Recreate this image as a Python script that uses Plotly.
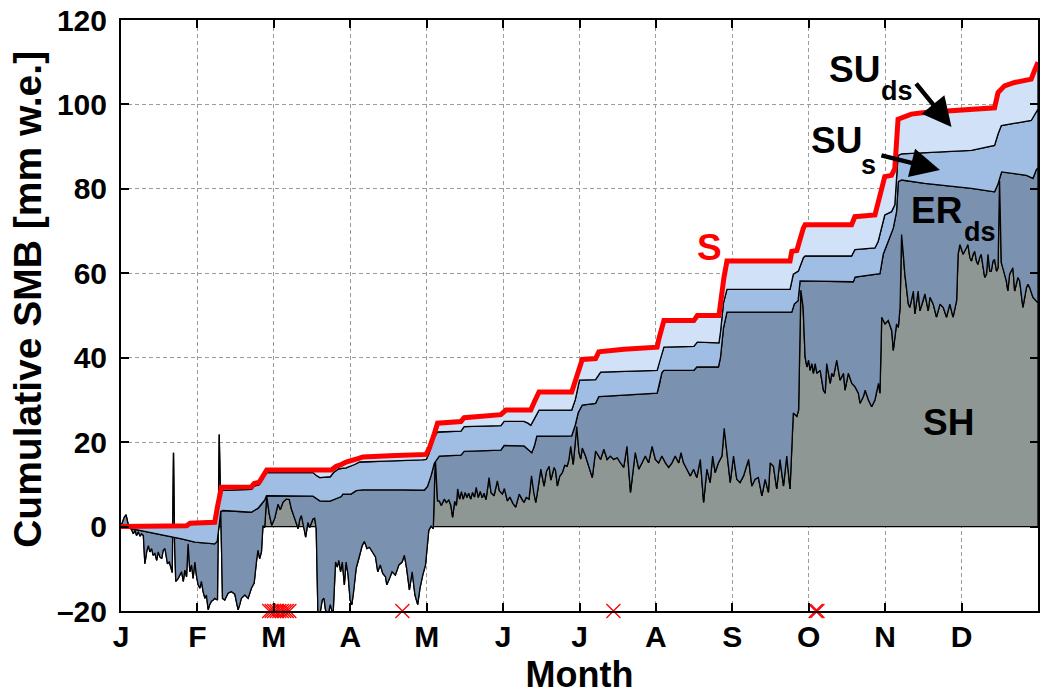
import plotly.graph_objects as go

# ---------------- data ----------------
month_labels = ['J', 'F', 'M', 'A', 'M', 'J', 'J', 'A', 'S', 'O', 'N', 'D']
y_ticks = [-20, 0, 20, 40, 60, 80, 100, 120]
y_tick_text = ['\u201320', '0', '20', '40', '60', '80', '100', '120']

# SH : snow height (grey area, noisy line)
sh_days = [0, 1.3, 2.0, 2.9, 4.2, 4.9, 5.6, 6.2, 6.9, 7.6, 8.2, 8.9, 9.5, 10.2, 10.9, 11.5, 12.2, 12.8,
           13.5, 14.2, 14.8, 15.5, 16.2, 16.8, 17.5, 18.1, 18.5, 19.2, 19.9, 20.4, 20.9, 21.3, 21.8,
           22.8, 23.4, 24.1, 24.8, 25.4, 26.1, 26.7, 27.4, 28.1, 28.7, 29.4, 30.0, 30.7, 31.4, 32.0,
           32.7, 33.4, 34.0, 34.7, 35.3, 36.0, 36.7, 37.3, 38.4, 39.1, 39.7, 40.4, 41.3, 42.6, 43.9,
           45.3, 46.6, 47.3, 47.9, 49.3, 50.6, 51.9, 53.0, 53.9, 54.5, 55.2, 55.9, 56.5, 57.2, 58.0,
           59.0, 60.0, 61.2, 62.5, 63.4, 64.5, 65.8, 67.0, 67.8, 69.1, 70.5, 71.2, 71.8, 72.4, 73.5,
           74.4, 75.1, 76.4, 77.1, 77.7, 78.4, 79.1, 80.1, 80.8, 81.4, 82.4, 83.3, 84.4, 85.4, 86.1,
           86.7, 87.4, 88.1, 88.9, 89.6, 90.4, 91.2, 91.9, 92.6, 93.6, 94.7, 96.0, 96.9, 97.9, 98.9,
           100.0, 101.3, 102.2, 103.2, 104.2, 105.3, 105.8, 106.9, 107.9, 109.2, 110.6, 111.9, 112.8,
           113.7, 114.8, 115.9, 117.0, 118.1, 119.0, 120.1, 121.2, 122.5, 123.4, 124.3, 125.1, 126.0,
           126.7, 127.5, 128.7, 129.5, 130.5, 131.3, 132.0, 132.8, 133.5, 134.0, 134.8, 135.5, 136.2,
           137.0, 137.7, 138.4, 139.2, 139.9, 140.7, 141.4, 142.2, 143.0, 143.8, 144.5, 145.3, 146.5,
           147.3, 148.5, 149.8, 150.6, 151.8, 152.6, 153.8, 154.8, 156.0, 157.1, 158.5, 159.5, 160.4,
           161.3, 162.4, 163.4, 164.3, 165.1, 166.1, 167.1, 168.4, 169.3, 170.4, 171.1, 171.7, 172.4,
           173.0, 173.7, 174.6, 175.7, 176.6, 177.6, 178.3, 179.0, 180.0, 181.4, 182.3, 183.0, 183.6,
           184.9, 186.2, 187.6, 188.9, 190.9, 192.2, 193.5, 194.8, 196.1, 197.5, 198.8, 200.1, 201.4,
           202.8, 204.7, 206.1, 207.4, 208.7, 210.0, 211.4, 212.7, 214.0, 215.3, 216.7, 218.0, 219.3,
           220.6, 222.0, 222.9, 223.9, 225.3, 226.6, 227.9, 229.2, 230.6, 231.9, 233.2, 234.5, 235.5,
           236.5, 237.8, 239.2, 240.1, 241.2, 242.5, 243.8, 245.1, 246.4, 247.8, 249.8, 251.1, 252.4,
           253.7, 255.1, 256.4, 257.7, 258.4, 259.7, 261.0, 262.3, 263.7, 265.0, 266.3, 267.6, 269.0,
           269.7, 270.6, 271.5, 272.3, 273.0, 273.7, 274.3, 275.0, 275.6, 276.3, 277.0, 278.3, 279.6,
           280.3, 280.9, 282.3, 282.9, 283.6, 284.9, 286.2, 287.6, 288.2, 289.5, 290.9, 292.2, 293.5,
           294.2, 295.5, 296.2, 297.5, 298.8, 300.1, 301.5, 302.1, 302.8, 304.1, 305.4, 306.8, 307.4,
           308.7, 309.4, 310.1, 310.7, 311.4, 312.0, 313.4, 314.0, 315.4, 316.0, 317.3, 318.0, 319.3,
           320.0, 321.3, 322.0, 323.3, 324.6, 326.0, 327.3, 328.6, 329.9, 331.2, 332.6, 333.2, 333.9,
           335.2, 336.5, 337.1, 337.9, 338.5, 339.2, 339.8, 340.5, 341.1, 341.8, 342.4, 343.2, 343.8,
           344.5, 345.1, 345.8, 346.4, 347.1, 347.7, 348.5, 349.1, 349.7, 350.4, 351.1, 352.4, 353.0,
           353.7, 355.0, 355.7, 357.0, 357.7, 359.0, 360.4, 361.0, 361.7, 363.0, 364.3, 365]
sh = [0.0, 2.2, 2.8, 0.4, -0.7, -1.7, -0.9, -2.1, -1.2, -2.3, -1.7, -2.1, -8.8, -6.0, -4.5, -6.0, -5.2, -6.8,
      -6.4, -8.0, -6.0, -7.2, -7.6, -5.6, -5.2, -7.6, -8.8, -8.4, -9.6, -10.9, 17.5, -3.3, -13.0,
      -12.3, -11.5, -10.7, -13.0, -10.3, -11.9, -4.1, -10.7, -9.1, -12.3, -8.4, -11.5, -13.8, -14.6, -13.0,
      -15.4, -17.0, -16.2, -19.7, -18.5, -17.7, -17.4, -17.0, -17.4, 21.8, 4.2, -17.0, -17.4, -15.8, -15.4,
      -16.0, -19.7, -18.5, -17.0, -16.2, -17.0, -14.6, -13.4, -8.4, -5.6, -7.6, -6.0, 0.2, -0.2, 7.3,
      3.0, 0.3, 2.0, 5.3, 4.0, 5.8, 6.5, 6.4, 4.2, 2.0, -0.5, 1.8, 2.6, 1.4, -2.5,
      1.0, -0.2, 1.8, 2.0, -0.5, -21.0, -21.0, -17.4, -17.0, -19.7, -21.0, -18.5, -21.0, -8.4, -9.6,
      -8.0, -10.7, -8.4, -13.8, -8.4, -11.5, -17.4, -18.5, -15.4, -9.9, -7.6, -4.5, -3.5, -5.2, -4.9,
      -6.0, -7.2, -10.7, -9.1, -11.1, -11.9, -13.8, -12.3, -10.7, -11.5, -9.1, -8.4, -6.8,
      -9.9, -15.0, -10.7, -16.2, -18.5, -14.6, -11.5, -9.1, -0.9, 0.1, -0.5, 16.4, 6.1,
      6.1, 5.0, 6.5, 5.7, 6.3, 5.0, 2.2, 6.0, 5.0, 8.9, 6.5, 8.3, 6.5,
      8.1, 6.9, 7.9, 6.5, 8.1, 7.0, 9.3, 6.9, 8.3, 6.8, 7.9, 6.4, 11.6,
      8.0, 7.3, 10.8, 8.5, 7.7, 9.0, 6.1, 7.0, 5.5, 4.6, 7.7, 6.5, 5.7,
      6.9, 6.5, 12.0, 8.0, 5.7, 9.5, 13.6, 9.6, 13.0, 14.3, 11.0, 12.4, 14.0,
      13.2, 9.6, 11.9, 12.8, 14.5, 14.3, 15.9, 19.0, 14.7, 23.7, 17.5, 16.0, 18.6,
      16.7, 14.3, 11.6, 17.9, 15.9, 18.3, 15.9, 16.7, 15.9, 16.3, 15.1, 14.0, 19.0,
      8.1, 17.5, 13.6, 15.1, 16.7, 15.1, 19.0, 15.9, 15.1, 16.7, 15.1, 14.0, 15.1,
      16.7, 15.1, 17.5, 15.1, 13.6, 12.0, 13.6, 11.6, 15.9, 5.7, 13.6, 10.4, 16.7,
      12.8, 15.1, 16.7, 23.3, 16.7, 10.4, 16.7, 11.2, 10.4, 12.0, 15.9, 9.6, 11.2,
      11.6, 7.3, 11.2, 8.1, 15.1, 14.3, 8.9, 15.9, 9.6, 16.7, 8.9, 26.9, 26.1,
      27.6, 56.0, 52.0, 40.2, 37.8, 39.4, 37.0, 38.6, 36.3, 38.6, 36.3, 37.0, 32.3,
      31.6, 38.6, 33.9, 36.3, 35.5, 39.4, 34.7, 36.3, 32.3, 36.3, 33.9, 33.1, 31.6,
      29.2, 30.8, 32.3, 30.0, 28.4, 30.0, 33.9, 31.6, 49.6, 48.0, 48.8, 46.4, 41.7,
      48.0, 47.2, 51.9, 69.2, 64.5, 59.8, 52.7, 51.9, 55.8, 50.4, 55.8, 51.1, 53.5,
      55.1, 51.1, 54.3, 52.7, 49.6, 52.7, 51.9, 49.6, 52.7, 49.6, 53.5, 64.5, 66.8,
      64.5, 66.0, 66.8, 63.7, 62.9, 64.5, 65.2, 62.9, 62.1, 63.7, 64.5, 61.3, 59.0,
      59.8, 64.5, 60.5, 60.5, 62.9, 63.3, 60.5, 61.3, 82.0, 62.5, 61.3, 58.2, 55.8,
      59.8, 61.3, 55.8, 59.0, 58.2, 51.9, 56.6, 57.4, 56.6, 54.3, 53.5, 53.0]

# top of ER_ds band
er_days = [0, 10.9, 24.1, 29.4, 37.3, 38.3, 39.7, 40.6, 51.9, 53.0, 54.5, 55.9, 57.2, 57.9, 59.2, 76.4,
           77.7, 79.1, 83.0, 85.7, 87.7, 88.3, 91.6, 93.6, 96.3, 112.2, 120.7, 122.0, 123.4, 124.7,
           126.7, 135.3, 136.6, 151.2, 152.5, 160.4, 162.0, 163.5, 164.5, 165.5, 179.4, 180.8, 182.0,
           183.6, 188.9, 190.2, 213.4, 214.3, 215.3, 216.1, 228.0, 229.2, 237.8, 238.6, 239.8, 241.2,
           267.0, 268.0, 269.5, 270.3, 291.5, 292.2, 302.1, 303.4, 305.4, 307.4, 308.7, 309.4, 310.7,
           314.6, 319.9, 338.5, 347.7, 349.0, 350.5, 360.4, 363.0, 364.3, 365]
er_top = [0.0, -1.3, -2.9, -3.7, -4.1, -3.5, 3.6, 3.8, 3.4, 3.8, 4.3, 5.2, 6.3, 7.3, 7.3, 7.2,
          6.7, 6.1, 6.0, 6.7, 7.1, 7.7, 7.7, 8.5, 8.7, 8.7, 8.6, 9.5, 12.0, 15.0,
          16.7, 16.9, 17.8, 18.1, 19.2, 19.1, 18.3, 17.5, 19.0, 21.4, 21.5, 24.0, 27.0,
          28.8, 29.2, 30.8, 31.6, 33.5, 36.5, 37.0, 37.0, 37.8, 37.8, 40.0, 47.0, 50.8,
          50.8, 52.7, 53.5, 58.2, 58.0, 59.1, 59.9, 64.5, 67.6, 70.7, 74.6, 81.7, 82.1,
          81.7, 81.3, 80.1, 79.3, 81.0, 84.0, 83.2, 82.5, 84.5, 85.0]

# top of SU_s band
sus_days = [0, 26.0, 28.0, 37.3, 38.5, 40.0, 52.0, 53.0, 55.0, 57.0, 58.0, 76.4, 78.0, 79.1, 83.3,
            84.6, 86.7, 89.6, 93.0, 95.0, 105.5, 112.2, 120.1, 121.5, 122.7, 124.0, 126.0, 135.3,
            136.6, 151.2, 152.5, 160.4, 162.0, 163.1, 164.5, 166.4, 179.4, 180.8, 182.5, 188.9,
            190.9, 213.4, 214.5, 216.1, 228.0, 229.4, 238.0, 238.6, 239.8, 241.2, 266.3, 267.6,
            269.6, 271.6, 272.3, 290.8, 292.1, 300.1, 301.4, 302.7, 304.0, 306.7, 308.0, 309.3,
            310.7, 338.5, 347.7, 349.1, 350.4, 362.3, 365]
sus_top = [0.0, 0.0, 0.6, 0.8, 4.0, 8.6, 8.8, 9.6, 9.9, 11.8, 12.8, 12.8, 12.0, 11.6, 11.8,
           12.8, 13.7, 13.9, 14.7, 15.3, 15.5, 15.7, 15.8, 15.9, 17.5, 20.5, 22.4, 22.6,
           23.7, 23.9, 24.9, 24.9, 24.5, 24.0, 25.5, 27.6, 27.6, 30.0, 34.7, 34.8,
           36.6, 37.0, 39.5, 42.5, 42.7, 43.7, 43.5, 46.0, 53.0, 56.2, 56.2, 59.8,
           60.5, 63.7, 64.1, 64.1, 65.6, 66.0, 67.6, 70.7, 73.8, 74.6, 76.2, 87.9,
           88.3, 89.1, 90.3, 93.0, 95.0, 96.2, 98.9]

# S : cumulative total (red line, top of SU_ds band)
s_days = [0, 26.1, 27.5, 37.3, 38.5, 40.0, 51.9, 53.0, 55.0, 57.0, 58.0, 83.7, 85.7, 87.7, 89.6,
          94.3, 96.3, 106.9, 121.4, 122.7, 123.4, 124.7, 126.0, 135.3, 136.6, 151.2, 153.2, 163.1,
          164.5, 166.4, 179.4, 180.8, 183.6, 188.9, 190.2, 200.2, 213.4, 214.1, 216.1, 228.0, 229.4,
          238.0, 238.6, 240.0, 241.2, 266.3, 267.0, 269.0, 271.6, 272.3, 290.8, 292.1, 300.1, 301.4,
          302.7, 304.0, 306.7, 308.0, 309.3, 310.7, 314.6, 319.9, 330.5, 338.5, 347.7, 349.1, 351.7,
          355.7, 362.3, 363.6, 365]
s_total = [0.0, 0.2, 0.8, 1.0, 5.0, 9.3, 9.4, 10.2, 10.5, 12.5, 13.4, 13.4, 14.3, 14.7, 15.3,
           16.1, 16.5, 16.8, 17.1, 18.5, 19.5, 22.0, 24.5, 24.9, 25.8, 26.5, 27.6, 27.6,
           29.5, 31.9, 31.9, 34.5, 39.6, 39.8, 41.4, 42.0, 42.5, 44.5, 48.8, 48.8, 50.0,
           50.0, 53.0, 59.0, 62.9, 62.9, 65.2, 65.4, 70.7, 71.5, 71.5, 73.4, 73.8, 77.0,
           79.3, 82.9, 83.2, 84.8, 96.5, 96.8, 97.7, 98.1, 98.5, 98.9, 99.2, 102.8, 104.4,
           105.2, 106.0, 108.0, 110.0]

# red crosses on the lower axis
gap_days = [59, 60, 61, 62, 63, 64, 65, 66, 67, 112, 196, 276.5, 277.2]

# ---------------- figure ----------------
W, H = 1043, 695
ML, MR, MT, MB = 121, 3, 17, 82
PW, PH = W - ML - MR, H - MT - MB
FONT = 'Liberation Sans, Arial, Helvetica, sans-serif'

C_SH, C_ER, C_SUS, C_SUDS = '#8e9794', '#7a91b0', '#a0bde3', '#d1e2f8'


def band(ux, uy, lx, ly):
    return list(ux) + list(lx)[::-1], list(uy) + list(ly)[::-1]


def paper(px, py):
    return (px - ML) / PW, (MT + PH - py) / PH


fig = go.Figure()
zero_days, zero_vals = [0, 365], [0, 0]
layers = [
    (sh_days, sh, zero_days, zero_vals, C_SH, 'SH'),
    (er_days, er_top, sh_days, sh, C_ER, 'ER_ds'),
    (sus_days, sus_top, er_days, er_top, C_SUS, 'SU_s'),
    (s_days, s_total, sus_days, sus_top, C_SUDS, 'SU_ds'),
]
for ux, uy, lx, ly, col, name in layers:
    bx, by = band(ux, uy, lx, ly)
    fig.add_trace(go.Scatter(x=bx, y=by, fill='toself', fillcolor=col, mode='lines',
                             line=dict(color='black', width=1.3), name=name,
                             hoverinfo='skip', showlegend=False))

fig.add_trace(go.Scatter(x=s_days, y=s_total, mode='lines', line=dict(color='#ff0000', width=5),
                         name='S', showlegend=False))
fig.add_trace(go.Scatter(x=gap_days, y=[-20] * len(gap_days), mode='markers', cliponaxis=False,
                         marker=dict(symbol='x-thin', size=14, line=dict(color='#ff0000', width=1.3)),
                         showlegend=False))

axis_common = dict(showline=True, linecolor='black', linewidth=2, mirror='ticks', ticks='inside',
                   ticklen=8, tickwidth=1.5, tickcolor='black', showgrid=True, gridcolor='#9c9c9c',
                   gridwidth=1, griddash='4px,3px', zeroline=False, layer='above traces',
                   ticklabeloverflow='allow',
                   tickfont=dict(family=FONT, size=30, color='black', weight='bold'))

fig.update_layout(
    width=W, height=H, margin=dict(l=ML, r=MR, t=MT, b=MB, pad=0),
    plot_bgcolor='white', paper_bgcolor='white', showlegend=False,
    font=dict(family=FONT, color='black'),
    xaxis=dict(range=[0, 365], tickmode='array', tickvals=[k * 365 / 12 for k in range(12)],
               ticktext=month_labels, ticklabelstandoff=-2,
               title=dict(text='Month', standoff=14,
                          font=dict(family=FONT, size=36, color='black', weight='bold')),
               **axis_common),
    yaxis=dict(range=[-20, 120], tickmode='array', tickvals=y_ticks, ticktext=y_tick_text,
               ticklabelstandoff=6, **axis_common),
)

# y-axis title (placed as in the reference, slightly above the axis centre)
yx, yy = paper(27, 299)
fig.add_annotation(x=yx, y=yy, xref='paper', yref='paper', text='<b>Cumulative SMB [mm w.e.]</b>',
                   textangle=-90, showarrow=False, xanchor='center', yanchor='middle',
                   font=dict(family=FONT, size=39, color='black'))

texts = [
    ('S', 711, 246, 37, '#ff0000'),
    ('SU', 856, 66.5, 37, 'black'), ('ds', 898.5, 89, 27, 'black'),
    ('SU', 838, 138.5, 37, 'black'), ('s', 870.5, 163.5, 27, 'black'),
    ('ER', 938, 209.5, 37, 'black'), ('ds', 981.5, 231, 27, 'black'),
    ('SH', 950, 422.5, 37, 'black'),
]
for t, px, py, sz, col in texts:
    xp, yp = paper(px, py)
    fig.add_annotation(x=xp, y=yp, xref='paper', yref='paper', text='<b>%s</b>' % t, showarrow=False,
                       xanchor='center', yanchor='middle',
                       font=dict(family=FONT, size=sz, color=col))

arrows = [((916.7, 80), (953.3, 125)), ((881.7, 153.3), (941.7, 168.3))]
for (tx, ty), (hx, hy) in arrows:
    xp, yp = paper(hx, hy)
    fig.add_annotation(x=xp, y=yp, xref='paper', yref='paper', text='', showarrow=True,
                       ax=tx - hx, ay=ty - hy, arrowhead=2, arrowsize=1.3, arrowwidth=4.5,
                       arrowcolor='black', standoff=0)

# remove the browser's default 8 px page margin so the figure sits at the window corner
fig.write_html('out.html', config={'displayModeBar': False},
               post_script="document.body.style.margin='0';")
